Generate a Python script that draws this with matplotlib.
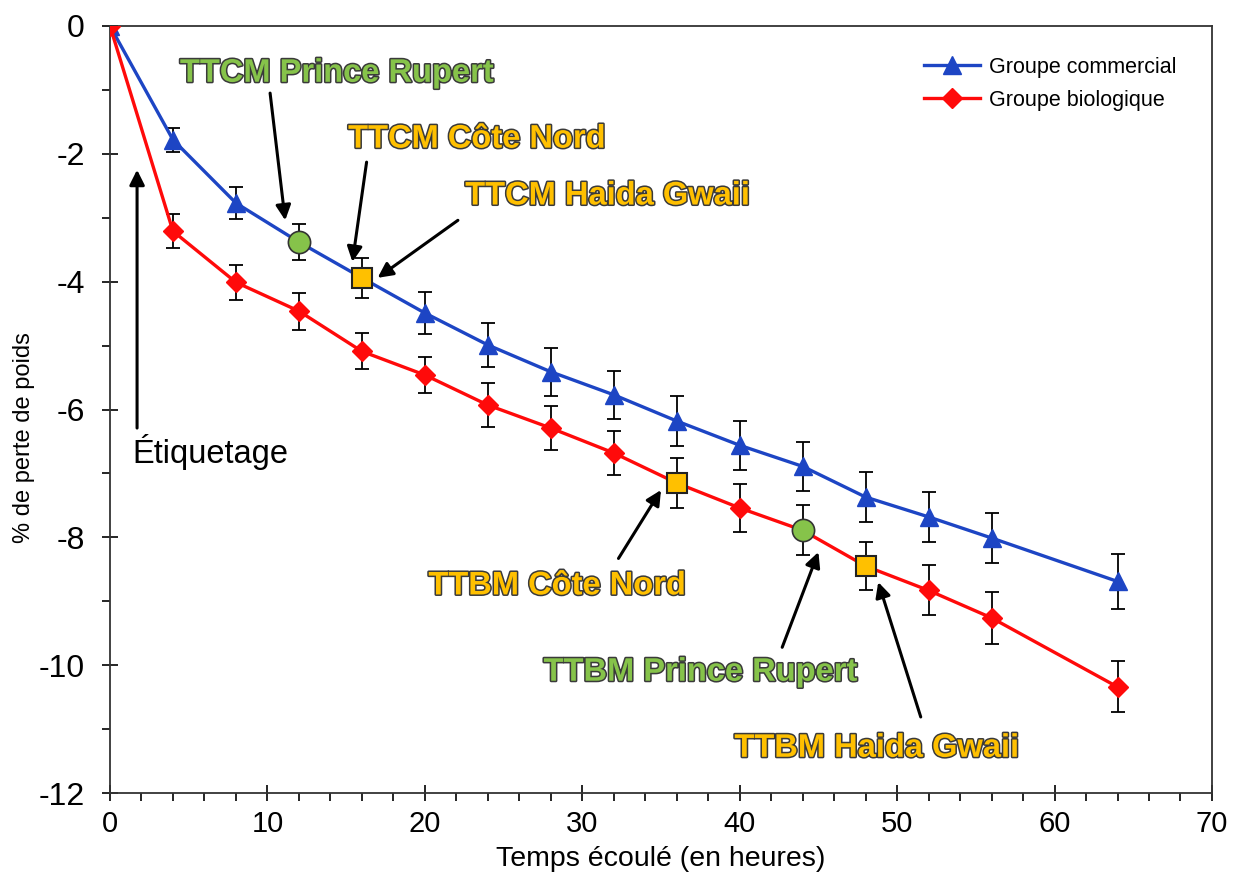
import matplotlib
matplotlib.use('Agg')
import matplotlib.pyplot as plt
import matplotlib.patheffects as pe
from matplotlib.ticker import MultipleLocator

plt.rcParams['font.family'] = ['Liberation Sans', 'DejaVu Sans']
plt.rcParams['axes.unicode_minus'] = False

# Temps (heures)
hours = [0, 4, 8, 12, 16, 20, 24, 28, 32, 36, 40, 44, 48, 52, 56, 64]

# Groupe commercial
com_loss = [0, -1.78, -2.77, -3.38, -3.94, -4.49, -4.99, -5.41, -5.77,
            -6.18, -6.56, -6.89, -7.37, -7.68, -8.01, -8.69]
com_err = [0, 0.19, 0.25, 0.28, 0.31, 0.33, 0.35, 0.38, 0.38,
           0.39, 0.38, 0.38, 0.39, 0.39, 0.39, 0.43]

# Groupe biologique
bio_loss = [0, -3.21, -4.01, -4.46, -5.09, -5.46, -5.93, -6.29, -6.68,
            -7.15, -7.54, -7.89, -8.45, -8.83, -9.26, -10.34]
bio_err = [0, 0.27, 0.27, 0.29, 0.28, 0.28, 0.35, 0.34, 0.34,
           0.39, 0.38, 0.39, 0.37, 0.39, 0.41, 0.40]

# points des transferts (indices dans hours)
com_rupert, com_cote = 3, 4
bio_cote, bio_rupert, bio_haida = 9, 11, 12

BLUE = '#1d45c4'
RED = '#ff0a0a'
GREEN = '#86c34a'
ORANGE = '#ffc000'

fig = plt.figure(figsize=(12.4, 8.84), dpi=100)
ax = fig.add_axes([0.0887, 0.1029, 0.8887, 0.8677])

com_special = {com_rupert, com_cote}
bio_special = {bio_cote, bio_rupert, bio_haida}
com_every = [i for i in range(len(hours)) if i not in com_special]
bio_every = [i for i in range(len(hours)) if i not in bio_special]

ax.errorbar(hours, com_loss, yerr=com_err, fmt='none', ecolor='black',
            elinewidth=1.3, capsize=5, capthick=1.3, zorder=2)
ax.errorbar(hours, bio_loss, yerr=bio_err, fmt='none', ecolor='black',
            elinewidth=1.3, capsize=5, capthick=1.3, zorder=2)

ax.plot(hours, com_loss, color=BLUE, lw=2.4, marker='^', markersize=13,
        markevery=com_every, label='Groupe commercial', zorder=3)
ax.plot(hours, bio_loss, color=RED, lw=2.4, marker='D', markersize=10,
        markevery=bio_every, label='Groupe biologique', zorder=4)

# marqueurs speciaux
for xi, yi in [(hours[com_rupert], com_loss[com_rupert]),
               (hours[bio_rupert], bio_loss[bio_rupert])]:
    ax.plot(xi, yi, 'o', ms=16, mfc=GREEN, mec='#333333', mew=1.2, zorder=5)
for xi, yi in [(hours[com_cote], com_loss[com_cote]),
               (hours[bio_cote], bio_loss[bio_cote]),
               (hours[bio_haida], bio_loss[bio_haida])]:
    ax.plot(xi, yi, 's', ms=14, mfc=ORANGE, mec='#222222', mew=1.5, zorder=5)

arrow = dict(arrowstyle='-|>,head_length=0.9,head_width=0.45', color='black',
             lw=2.2, shrinkA=0, shrinkB=0)
outline = [pe.withStroke(linewidth=2.2, foreground='#3a3a3a')]

labels = [
    ('TTCM Prince Rupert', GREEN, (14.4, -0.74), (10.17, -1.05), (11.13, -3.04)),
    ('TTCM Côte Nord', ORANGE, (23.3, -1.77), (16.3, -2.13), (15.4, -3.69)),
    ('TTCM Haida Gwaii', ORANGE, (31.6, -2.66), (22.1, -3.04), (17.0, -3.94)),
    ('TTBM Côte Nord', ORANGE, (28.4, -8.76), (32.3, -8.33), (35.0, -7.26)),
    ('TTBM Prince Rupert', GREEN, (37.5, -10.11), (42.7, -9.72), (45.0, -8.23)),
    ('TTBM Haida Gwaii', ORANGE, (48.7, -11.30), (51.5, -10.81), (48.8, -8.70)),
]
for txt, col, tpos, tail, tip in labels:
    ax.text(tpos[0], tpos[1], txt, color=col, fontsize=23.5, fontweight='bold',
            ha='center', va='center', path_effects=outline, zorder=6)
    ax.annotate('', xy=tip, xytext=tail, arrowprops=arrow, zorder=6)

ax.text(1.4, -6.67, 'Étiquetage', fontsize=23.5, ha='left', va='center', zorder=6)
ax.annotate('', xy=(1.72, -2.25), xytext=(1.72, -6.29), arrowprops=arrow, zorder=6)

ax.set_xlim(0, 70)
ax.set_ylim(-12, 0)
ax.xaxis.set_major_locator(MultipleLocator(10))
ax.xaxis.set_minor_locator(MultipleLocator(2))
ax.yaxis.set_major_locator(MultipleLocator(2))
ax.yaxis.set_minor_locator(MultipleLocator(1))
ax.tick_params(which='major', direction='inout', length=12, width=1.2,
               labelsize=21)
ax.tick_params(axis='y', which='major', labelsize=23, pad=12)
ax.tick_params(axis='x', which='major', pad=6)
ax.tick_params(which='minor', direction='out', length=6, width=1.2)
for s in ax.spines.values():
    s.set_linewidth(1.3)
    s.set_color('#333333')

ax.set_xlabel('Temps écoulé (en heures)', fontsize=20.5, labelpad=6)
ax.set_ylabel('% de perte de poids', fontsize=17)
ax.yaxis.set_label_coords(-0.068, 0.464)

ax.legend(loc='upper right', bbox_to_anchor=(0.985, 0.985), frameon=False,
          fontsize=15.5, handlelength=2.6, handletextpad=0.4, labelspacing=0.55)

plt.savefig('out.png', dpi=100)
